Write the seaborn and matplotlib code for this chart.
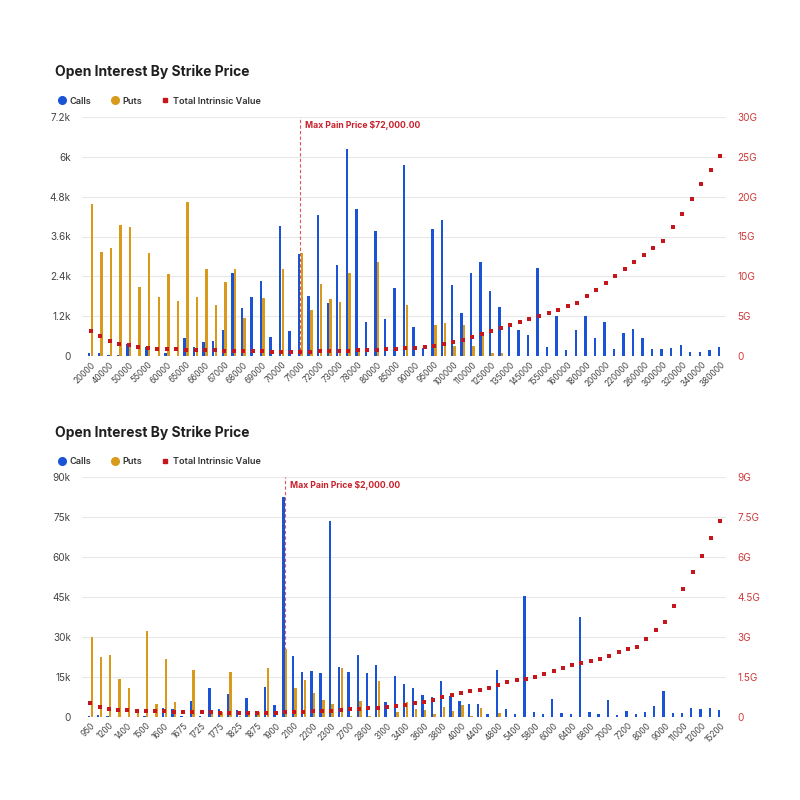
import numpy as np
import pandas as pd
import matplotlib
matplotlib.use("Agg")
import matplotlib.pyplot as plt
import seaborn as sns
from matplotlib.lines import Line2D

# --- data: top panel (BTC) ---
btc_strikes = ["20000", "30000", "40000", "45000", "50000", "52000", "55000", "58000", "60000", "62000",
               "65000", "65500", "66000", "66500", "67000", "67500", "68000", "68500", "69000", "69500",
               "70000", "70500", "71000", "71500", "72000", "72500", "73000", "75000", "78000", "79000",
               "80000", "82000", "85000", "88000", "90000", "92000", "95000", "98000", "100000", "105000",
               "110000", "120000", "125000", "130000", "135000", "140000", "145000", "150000", "155000", "158000",
               "160000", "170000", "180000", "190000", "200000", "210000", "220000", "240000", "260000", "280000",
               "300000", "310000", "320000", "330000", "340000", "360000", "380000"]
btc_calls = [0.09, 0.08, 0.03, 0.04, 0.35, 0.0, 0.26, 0.0, 0.08, 0.0,
             0.54, 0.26, 0.42, 0.45, 0.78, 2.50, 1.45, 1.79, 2.27, 0.56,
             3.92, 0.74, 3.07, 1.80, 4.26, 1.61, 2.74, 6.24, 4.44, 1.01,
             3.78, 1.12, 2.06, 5.74, 0.87, 0.25, 3.84, 4.09, 2.13, 1.31,
             2.51, 2.82, 1.97, 1.47, 0.92, 0.78, 0.64, 2.64, 0.26, 1.20,
             0.19, 0.77, 1.19, 0.55, 1.03, 0.20, 0.70, 0.82, 0.55, 0.20,
             0.20, 0.24, 0.32, 0.12, 0.12, 0.17, 0.26]
btc_puts = [4.59, 3.12, 3.24, 3.95, 3.89, 2.07, 3.09, 1.77, 2.48, 1.67,
            4.63, 1.77, 2.63, 1.54, 2.24, 2.61, 1.15, 0.0, 1.76, 0.0,
            2.61, 0.0, 3.09, 1.39, 2.16, 1.72, 1.64, 2.49, 0.19, 0.0,
            2.82, 0.0, 0.0, 1.55, 0.0, 0.0, 0.93, 1.00, 0.29, 0.93,
            0.30, 0.67, 0.09, 0.10, 0.0, 0.0, 0.0, 0.0, 0.0, 0.0,
            0.0, 0.0, 0.0, 0.0, 0.0, 0.0, 0.0, 0.0, 0.0, 0.0,
            0.0, 0.0, 0.0, 0.0, 0.0, 0.0, 0.0]
btc_tiv = [3.20, 2.55, 1.88, 1.54, 1.33, 1.13, 0.96, 0.88, 0.88, 0.85,
           0.80, 0.75, 0.72, 0.70, 0.67, 0.65, 0.62, 0.60, 0.58, 0.56,
           0.55, 0.55, 0.54, 0.55, 0.57, 0.60, 0.63, 0.67, 0.71, 0.75,
           0.79, 0.83, 0.88, 0.96, 1.04, 1.13, 1.25, 1.46, 1.79, 2.04,
           2.38, 2.79, 3.13, 3.50, 3.83, 4.25, 4.63, 5.00, 5.46, 5.79,
           6.25, 6.67, 7.50, 8.33, 9.17, 10.04, 10.88, 11.75, 12.67, 13.54,
           14.46, 16.13, 17.88, 19.71, 21.54, 23.29, 25.08]
btc_pain_strike = "71000"
btc_pain_text = "Max Pain Price \\$72,000.00"

# --- data: bottom panel (ETH) ---
eth_strikes = ["950", "1000", "1200", "1300", "1400", "1450", "1500", "1550", "1600", "1650",
               "1675", "1700", "1725", "1750", "1775", "1800", "1825", "1850", "1875", "1880",
               "1900", "2000", "2100", "2150", "2200", "2250", "2300", "2500", "2700", "2750",
               "2800", "3000", "3100", "3200", "3400", "3500", "3600", "3700", "3800", "3900",
               "4000", "4200", "4400", "4600", "4800", "5000", "5400", "5600", "5800", "5900",
               "6000", "6200", "6400", "6600", "6800", "6900", "7000", "7100", "7200", "7500",
               "8000", "8500", "9000", "10000", "11000", "11500", "12000", "13000", "15200"]
eth_calls = [0.4, 0.6, 0.4, 0.1, 0.1, 0.0, 0.4, 0.1, 3.5, 3.1,
             0.4, 5.9, 0.5, 10.75, 3.1, 8.6, 2.75, 7.0, 1.9, 11.4,
             4.5, 82.5, 22.9, 16.75, 17.25, 16.4, 73.5, 18.6, 17.0, 23.25,
             16.5, 19.6, 5.75, 15.25, 12.25, 10.75, 8.1, 7.4, 13.6, 8.0,
             6.0, 4.75, 4.75, 1.1, 17.5, 3.0, 1.25, 45.4, 2.0, 1.0,
             6.6, 1.4, 1.1, 37.6, 1.75, 1.1, 6.5, 0.6, 2.25, 1.25,
             1.75, 4.25, 9.6, 1.6, 1.6, 3.5, 3.1, 3.5, 2.6]
eth_puts = [29.9, 22.4, 23.3, 14.3, 10.8, 2.0, 32.3, 4.75, 21.6, 5.5,
            0.0, 17.6, 0.0, 2.25, 2.0, 16.75, 0.4, 2.0, 1.9, 18.25,
            0.0, 25.4, 10.75, 13.9, 9.1, 6.4, 4.9, 18.4, 0.5, 5.9,
            0.25, 13.4, 0.0, 1.75, 5.5, 3.1, 2.6, 1.1, 3.75, 2.1,
            4.4, 0.25, 3.4, 0.0, 1.4, 0.0, 0.0, 0.0, 0.0, 0.0,
            0.0, 0.0, 0.0, 0.0, 0.0, 0.0, 0.0, 0.0, 0.0, 0.0,
            0.0, 0.0, 0.0, 0.0, 0.0, 0.0, 0.0, 0.0, 0.0]
eth_tiv = [0.51, 0.375, 0.31, 0.275, 0.26, 0.24, 0.24, 0.21, 0.21, 0.19,
           0.19, 0.18, 0.18, 0.175, 0.16, 0.16, 0.16, 0.15, 0.15, 0.15,
           0.15, 0.17, 0.19, 0.20, 0.21, 0.225, 0.24, 0.26, 0.29, 0.30,
           0.325, 0.34, 0.375, 0.41, 0.46, 0.54, 0.575, 0.65, 0.74, 0.84,
           0.91, 0.975, 1.01, 1.10, 1.20, 1.30, 1.39, 1.44, 1.51, 1.62,
           1.74, 1.84, 1.94, 2.03, 2.09, 2.19, 2.30, 2.43, 2.54, 2.64,
           2.91, 3.25, 3.55, 4.18, 4.80, 5.45, 6.05, 6.70, 7.36]
eth_pain_strike = "2000"
eth_pain_text = "Max Pain Price \\$2,000.00"

# axis ticks
btc_left = [0, 1.2, 2.4, 3.6, 4.8, 6, 7.2]
btc_left_lbl = ["0", "1.2k", "2.4k", "3.6k", "4.8k", "6k", "7.2k"]
btc_right = [0, 5, 10, 15, 20, 25, 30]
btc_right_lbl = ["0", "5G", "10G", "15G", "20G", "25G", "30G"]
eth_left = [0, 15, 30, 45, 60, 75, 90]
eth_left_lbl = ["0", "15k", "30k", "45k", "60k", "75k", "90k"]
eth_right = [0, 1.5, 3, 4.5, 6, 7.5, 9]
eth_right_lbl = ["0", "1.5G", "3G", "4.5G", "6G", "7.5G", "9G"]

BLUE = "#1a53d6"
GOLD = "#d99a1c"
RED = "#c4161c"
RED_TXT = "#cf3a3a"

sns.set_theme(style="white")
plt.rcParams["font.family"] = ["Inter", "DejaVu Sans"]

fig = plt.figure(figsize=(8, 8), dpi=100)
fig.patch.set_facecolor("white")


def panel(rect, title_y, strikes, calls, puts, tiv, lt, ltl, rt, rtl, pain, pain_text):
    n = len(strikes)
    df = pd.DataFrame({
        "strike": strikes * 2,
        "type": ["Calls"] * n + ["Puts"] * n,
        "oi": calls + puts,
    })
    ax = fig.add_axes(rect)
    sns.barplot(data=df, x="strike", y="oi", hue="type", order=strikes,
                hue_order=["Calls", "Puts"], palette=[BLUE, GOLD], saturation=1,
                width=0.58, gap=0.12, legend=False, ax=ax,
                linewidth=0, edgecolor="none")
    for p in ax.patches:
        p.set_zorder(3)
    ax2 = ax.twinx()
    tdf = pd.DataFrame({"strike": strikes, "tiv": tiv})
    sns.pointplot(data=tdf, x="strike", y="tiv", order=strikes, color=RED,
                  linestyle="none", marker="s", ax=ax2)
    for ln in ax2.lines:
        ln.set_markersize(2.4)
        ln.set_markeredgewidth(0)

    ax.set_xlim(-0.9, n - 0.4)
    ax.set_ylim(lt[0], lt[-1])
    ax2.set_ylim(rt[0], rt[-1])
    ax.set_yticks(lt)
    ax.set_yticklabels(ltl)
    ax2.set_yticks(rt)
    ax2.set_yticklabels(rtl)
    ax.set_xticks(range(0, n, 2))
    ax.set_xticklabels(strikes[::2], rotation=45, ha="right",
                       rotation_mode="anchor", fontsize=5.9, color="#444444")
    ax.tick_params(axis="y", length=0, pad=8, labelsize=7.2, labelcolor="#444444")
    ax.tick_params(axis="x", length=0, pad=3)
    ax2.tick_params(axis="y", length=0, pad=8, labelsize=7.2, labelcolor=RED_TXT)
    ax.yaxis.grid(True, color="#e8e8e8", linewidth=0.8)
    ax.set_axisbelow(True)
    ax2.grid(False)
    for a in (ax, ax2):
        a.set_xlabel("")
        a.set_ylabel("")
        for s in a.spines.values():
            s.set_visible(False)

    pi = strikes.index(pain)
    ax.axvline(pi, color="#e05555", linestyle=(0, (3, 2)), linewidth=0.8, zorder=1)
    ax.text(pi + 0.5, lt[-1] * 0.985, pain_text, color="#c8202a", fontsize=6.2,
            fontweight="bold", va="top", ha="left")

    fig.text(55 / 800, title_y, "Open Interest By Strike Price", fontsize=10,
             fontweight="bold", color="#1f1f1f", va="center", ha="left")
    handles = [
        Line2D([], [], marker="o", linestyle="none", color=BLUE, markersize=5.5),
        Line2D([], [], marker="o", linestyle="none", color=GOLD, markersize=5.5),
        Line2D([], [], marker="s", linestyle="none", color=RED, markersize=2.6),
    ]
    fig.legend(handles, ["Calls", "Puts", "Total Intrinsic Value"], loc="center left",
               bbox_to_anchor=(53 / 800, title_y - 29 / 800), ncol=3, frameon=False,
               prop={"size": 6.6, "weight": "semibold"}, handletextpad=0.25,
               columnspacing=1.9, handlelength=1.2, borderaxespad=0,
               labelcolor="#333333")
    return ax


panel([82 / 800, 1 - 356 / 800, 644 / 800, 239 / 800], 1 - 72 / 800,
      btc_strikes, btc_calls, btc_puts, btc_tiv,
      btc_left, btc_left_lbl, btc_right, btc_right_lbl, btc_pain_strike, btc_pain_text)
panel([82 / 800, 1 - 717 / 800, 644 / 800, 240 / 800], 1 - 433 / 800,
      eth_strikes, eth_calls, eth_puts, eth_tiv,
      eth_left, eth_left_lbl, eth_right, eth_right_lbl, eth_pain_strike, eth_pain_text)

fig.savefig("out.png", dpi=100, facecolor="white")
